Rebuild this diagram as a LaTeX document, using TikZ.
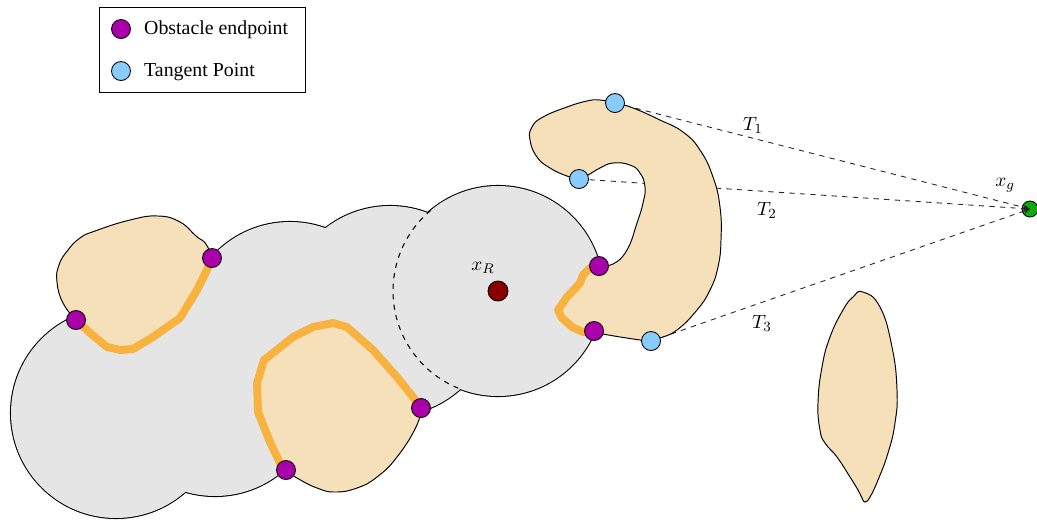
\documentclass[tikz,border=0pt]{standalone}
\usepackage{fontspec}
\setmainfont{Liberation Serif}
\usetikzlibrary{arrows.meta}
\definecolor{endpt}{HTML}{AA00AA}
\definecolor{tanpt}{HTML}{88CCFF}
\definecolor{robot}{HTML}{880000}
\definecolor{goal}{HTML}{11AA11}
\definecolor{swept}{HTML}{E5E5E5}
\definecolor{obst}{HTML}{F5E0BA}
\definecolor{contact}{HTML}{F7B23F}

\begin{document}
\begin{tikzpicture}[x=0.2mm,y=0.2mm,
  font=\fontsize{11.3}{13}\selectfont,
  dot/.style={circle,draw=black,line width=.5pt,inner sep=0pt,minimum size=3.8mm},
  endpoint/.style={dot,fill=endpt},
  tangent/.style={dot,fill=tanpt},
  obstacle/.style={fill=obst},
  rim/.style={draw=black,line width=.55pt},
  hug/.style={draw=contact,line width=4.5pt,line join=round,line cap=round},
  tanline/.style={dashed,draw=black!85,line width=.5pt,-{Stealth[length=1.3mm,width=1.1mm]}}
]
\useasboundingbox (0,0) rectangle (1037,-521);

% robot positions along the path and tangent points
\coordinate (c1) at (116,-413);
\coordinate (c2) at (215,-391);
\coordinate (c3) at (290,-327);
\coordinate (c4) at (390,-311);
\coordinate (c5) at (498,-291);
\coordinate (t1) at (615,-103);
\coordinate (t2) at (579,-179);
\coordinate (t3) at (651,-341);

\node[dot,fill=goal,minimum size=3.2mm] (xg) at (1030,-209) {};
\draw[tanline] (t1) -- (xg.center);
\draw[tanline] (t2) -- (xg.center);
\draw[tanline] (t3) -- (xg.center);

% swept area of the robot
\foreach \c in {c1,c2,c3,c4,c5}
  \draw[line width=1.2pt] (\c) circle[radius=105];
\foreach \c in {c1,c2,c3,c4,c5}
  \fill[swept] (\c) circle[radius=105];
\draw[dashed,line width=.6pt] (c5) ++(129.9:105) arc[start angle=129.9,end angle=247.7,radius=105];

% obstacles
\fill[obstacle] plot[smooth cycle,tension=.8] coordinates {(76,-320) (63,-303) (57,-282) (59,-265)
  (68,-250) (80,-238) (95,-231) (130,-220) (158,-216) (180,-222) (196,-236) (206,-244) (212,-258)
  (207,-270) (197,-290) (180,-318) (153,-337) (133,-349) (120,-350) (107,-347) (90,-333)};
\draw[rim] plot[smooth,tension=.8] coordinates {(76,-320) (63,-303) (57,-282) (59,-265)
  (68,-250) (80,-238) (95,-231) (130,-220) (158,-216) (180,-222) (196,-236) (206,-244) (212,-258)};
\draw[hug] (212,-258) -- (207,-270) -- (197,-290) -- (180,-318) -- (153,-337) -- (133,-349)
  -- (120,-350) -- (107,-347) -- (90,-333) -- (76,-320);

\fill[obstacle] plot[smooth cycle,tension=.8] coordinates {(286,-470) (280,-463) (270,-442) (258,-412)
  (257,-383) (264,-360) (293,-337) (313,-327) (333,-323) (347,-327) (373,-350) (397,-377) (413,-397)
  (421,-408) (416,-427) (397,-457) (377,-477) (357,-488) (335,-492) (317,-488) (297,-478)};
\draw[rim] plot[smooth,tension=.8] coordinates {(421,-408) (416,-427) (397,-457) (377,-477)
  (357,-488) (335,-492) (317,-488) (297,-478) (286,-470)};
\draw[hug] (286,-470) -- (280,-463) -- (270,-442) -- (258,-412) -- (257,-383) -- (264,-360)
  -- (293,-337) -- (313,-327) -- (333,-323) -- (347,-327) -- (373,-350) -- (397,-377)
  -- (413,-397) -- (421,-408);

\fill[obstacle] plot[smooth cycle,tension=.8] coordinates {(599,-266) (613,-264) (627,-250)
  (637,-223) (643,-203) (645,-187) (640,-173) (630,-165) (613,-163) (600,-168) (588,-175)
  (579,-179) (567,-176) (550,-168) (537,-157) (530,-140) (532,-127) (543,-117) (567,-107)
  (587,-101) (600,-100) (615,-103) (633,-108) (660,-120) (683,-132) (700,-150) (713,-177)
  (720,-207) (721,-240) (718,-267) (710,-290) (697,-310) (677,-330) (660,-338) (651,-341)
  (640,-340) (603,-334) (594,-331) (583,-332) (572,-327) (562,-318) (558,-310) (567,-297)
  (580,-283) (583,-275) (590,-268)};
\draw[rim] plot[smooth,tension=.8] coordinates {(599,-266) (613,-264) (627,-250)
  (637,-223) (643,-203) (645,-187) (640,-173) (630,-165) (613,-163) (600,-168) (588,-175)
  (579,-179) (567,-176) (550,-168) (537,-157) (530,-140) (532,-127) (543,-117) (567,-107)
  (587,-101) (600,-100) (615,-103) (633,-108) (660,-120) (683,-132) (700,-150) (713,-177)
  (720,-207) (721,-240) (718,-267) (710,-290) (697,-310) (677,-330) (660,-338) (651,-341)
  (640,-340) (603,-334) (594,-331)};
\draw[hug] (594,-331) -- (583,-332) -- (572,-327) -- (562,-318) -- (558,-310) -- (567,-297)
  -- (580,-283) -- (583,-275) -- (590,-268) -- (599,-266);

\filldraw[obstacle,rim] plot[smooth cycle,tension=.8] coordinates {(863,-292) (880,-307)
  (892,-347) (897,-390) (895,-423) (888,-453) (878,-480) (870,-497) (865,-502) (862,-498)
  (858,-490) (850,-477) (837,-457) (825,-443) (820,-430) (818,-403) (822,-367) (830,-337)
  (843,-310) (853,-297)};

% points
\node[endpoint] (e1) at (76,-320) {};
\node[endpoint] (e2) at (212,-258) {};
\node[endpoint] (e3) at (286,-470) {};
\node[endpoint] (e4) at (421,-408) {};
\node[endpoint] (e5) at (599,-266) {};
\node[endpoint] (e6) at (594,-331) {};
\node[tangent] (p1) at (t1) {};
\node[tangent] (p2) at (t2) {};
\node[tangent] (p3) at (t3) {};
\node[dot,fill=robot,minimum size=4mm] (xr) at (c5) {};

\node (lr) at (483,-268) {$x_R$};
\node (lg) at (1005,-185) {$x_g$};
\node (l1) at (753,-125) {$T_1$};
\node (l2) at (767,-210) {$T_2$};
\node (l3) at (762,-323) {$T_3$};

% legend
\draw[line width=.5pt] (99,-7) rectangle (305,-92);
\node[endpoint] (k1) at (121,-29) {};
\node[tangent] (k2) at (121,-71) {};
\node[anchor=west] (k1t) at (138,-30) {Obstacle endpoint};
\node[anchor=west] (k2t) at (138,-72) {Tangent Point};
\end{tikzpicture}
\end{document}
